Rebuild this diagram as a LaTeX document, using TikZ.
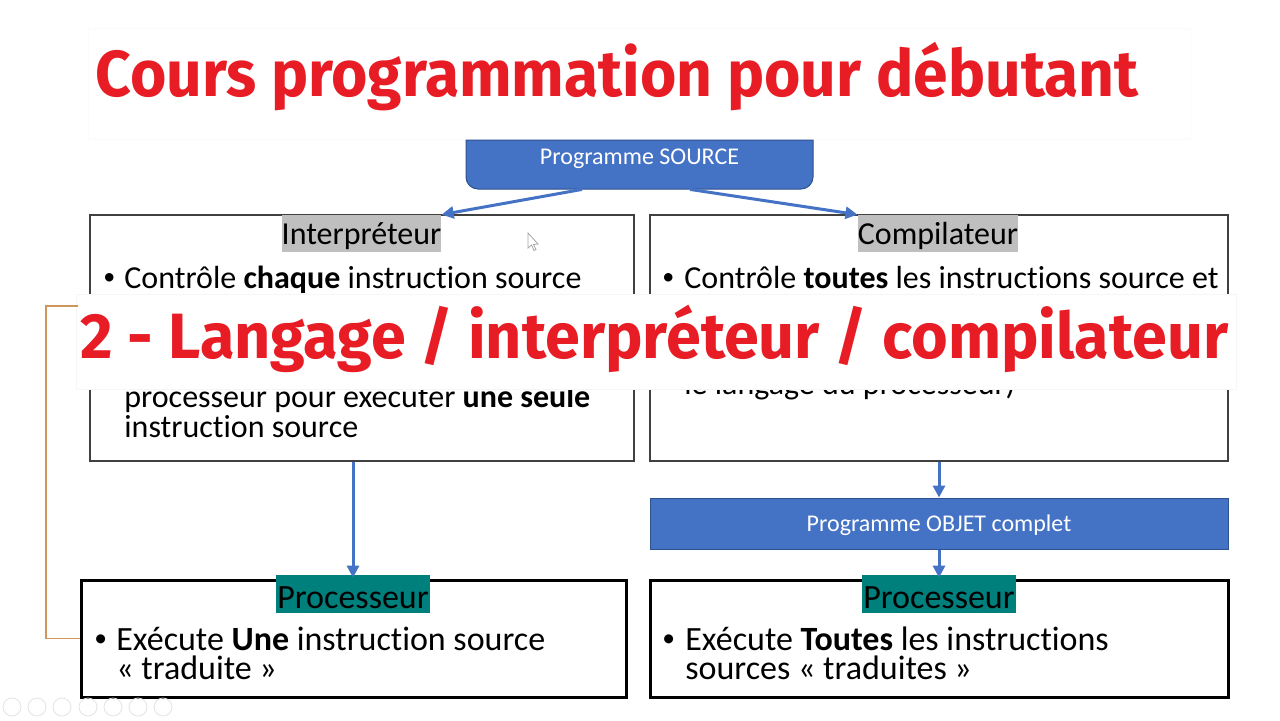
\documentclass[tikz,border=0pt]{standalone}
\usepackage{fontspec}
\setmainfont{Carlito}[Ligatures=NoCommon]
\newfontfamily\titlefont{Fira Sans}
\usepackage{graphicx}
\usetikzlibrary{arrows.meta,calc}
\definecolor{titlered}{RGB}{232,28,36}
\definecolor{pblue}{RGB}{68,114,196}
\definecolor{pborder}{RGB}{47,82,143}
\definecolor{pteal}{RGB}{0,128,125}
\definecolor{hlgray}{RGB}{191,191,191}
\definecolor{brk}{RGB}{205,150,90}
\newcommand{\bul}{\raisebox{0.1em}{\scalebox{0.75}{•}}}
\begin{document}
\begin{tikzpicture}[x=0.5pt,y=-0.5pt,
  bluebox/.style={fill=pblue, draw=pborder, line width=0.5pt, text=white, inner sep=0pt, font=\fontsize{12}{14}\selectfont},
  textbox/.style={draw=black!75, line width=0.6pt, inner sep=0pt},
  procbox/.style={draw=black, line width=1.5pt, inner sep=0pt},
  hl/.style={fill=hlgray, inner sep=0pt, text height=12pt, text depth=1.5pt, font=\fontsize{16}{19}\selectfont},
  tl/.style={fill=pteal, inner sep=0pt, text height=15pt, text depth=1pt, font=\fontsize{17}{20}\selectfont},
  arr/.style={draw=pblue, line width=1.5pt, -{Triangle[length=6pt,width=6pt]}},
  body/.style={anchor=base west, inner sep=0pt, font=\fontsize{16}{19}\selectfont},
  bodyb/.style={anchor=base west, inner sep=0pt, align=left, font=\fontsize{17}{14.5}\selectfont},
  bigtitle/.style={anchor=base west, inner sep=0pt, text=titlered},
  overlay/.style={fill=white, draw=gray!7, line width=0.4pt},
  navicon/.style={draw=gray!22, line width=0.4pt}
]
\useasboundingbox[fill=white] (0,0) rectangle (1280,720);

% faint title banner
\fill[white, draw=gray!3] (88,28) rectangle (1190,139);

% Programme SOURCE box (square top, rounded bottom)
\draw[fill=pblue, draw=pborder, line width=0.5pt] (466,165) [sharp corners] -- (466,140) -- (813,140) -- (813,165) [rounded corners=6pt] -- (813,189) -- (466,189) -- cycle;
\node[text=white, inner sep=0pt, minimum width=173.5pt, minimum height=24.5pt, text height=4pt, text depth=4pt, font=\fontsize{12}{14}\selectfont] (src) at (639.5,164.5) {Programme SOURCE};

% top boxes
\node[textbox, minimum width=272pt, minimum height=123pt] (ibox) at (362,338) {};
\node[textbox, minimum width=289pt, minimum height=123pt] (cbox) at (939,338) {};
\node[hl, minimum width=79.5pt, minimum height=18.5pt] (hli) at (361.5,233.5) {Interpréteur};
\node[hl, minimum width=80pt, minimum height=18.5pt] (hlc) at (938,233.5) {Compilateur};

\draw[arr] ([xshift=-28.75pt]src.south) -- (hli.north east);
\draw[arr] ([xshift=25.25pt]src.south) -- (hlc.north west);

\node[body] (i1) at (103,288) {\makebox[10.5pt][l]{\bul}Contrôle \textbf{chaque} instruction source};
\node[body] (i2) at (124,407) {processeur pour exécuter \textbf{une seule}};
\node[body] (i3) at (124,437) {instruction source};
\node[body] (c1) at (662,288) {\makebox[11pt][l]{\bul}Contrôle \textbf{toutes} les instructions source et};
\node[body] (c2) at (684,394) {le langage du processeur)};

% OBJET box
\node[bluebox, minimum width=289pt, minimum height=25.5pt, text height=9pt, text depth=1pt] (obj) at (939,523.5) {Programme OBJET complet};

% bottom boxes
\node[procbox, minimum width=272.5pt, minimum height=58.5pt] (lproc) at (353.5,638.5) {};
\node[procbox, minimum width=289pt, minimum height=58.5pt] (rproc) at (939,638.5) {};
\node[tl, minimum width=77pt, minimum height=19pt] (lpl) at (353,594) {Processeur};
\node[tl, minimum width=77pt, minimum height=19pt] (rpl) at (939,594) {Processeur};

\node[bodyb] (lt) at (94,679) {\makebox[11pt][l]{\bul}Exécute \textbf{Une} instruction source\\\hspace*{11pt}« traduite »};
\node[bodyb] (rt) at (662,679) {\makebox[11.5pt][l]{\bul}Exécute \textbf{Toutes} les instructions\\\hspace*{11.5pt}sources « traduites »};

% vertical arrows
\draw[arr] (lpl.north |- ibox.south) -- ([yshift=-1.5pt]lpl.north);
\draw[arr] (cbox.south) -- (obj.north);
\draw[arr] (obj.south) -- ([yshift=-1.5pt]rpl.north);

% overlay banner with second title
\draw[overlay] (76,294) rectangle (1236,389);
\node[bigtitle] (t2) at (80,358) {\resizebox{574pt}{\height}{\titlefont\bfseries\fontsize{32}{38}\selectfont 2 - Langage / interpréteur / compilateur}};

% main title
\node[bigtitle] (t1) at (95,96) {\resizebox{521.5pt}{\height}{\titlefont\bfseries\fontsize{32.5}{38}\selectfont Cours programmation pour débutant}};

% bracket
\coordinate (bx) at (46,306);
\coordinate (bt) at (78,306);
\draw[brk, line width=0.8pt] (lproc.west) -| (bx) -- (bt);

% mouse cursor
\draw[fill=white, draw=gray!70, line width=0.4pt] (528,233) -- (528,248) -- (531.5,245) -- (534,250.5) -- (536,249.5) -- (533.5,244.5) -- (538,244) -- cycle;

% faint navigation icons
\foreach \cx in {12,37,62,88,113,138,163} {
  \draw[navicon] (\cx,707) circle (9);
}
\end{tikzpicture}
\end{document}
